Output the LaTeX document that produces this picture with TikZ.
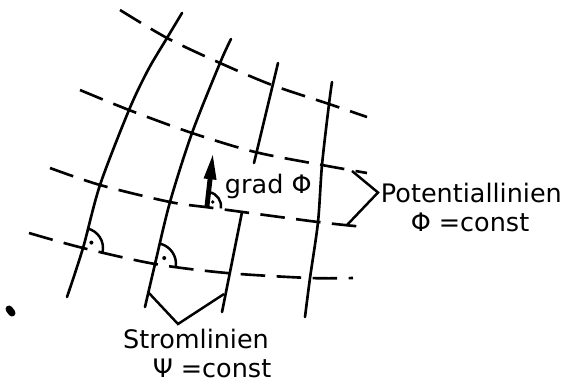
\documentclass[tikz,border=0pt]{standalone}
\usepackage{fontspec}
\setmainfont{DejaVu Sans}
\usetikzlibrary{arrows.meta, calc}
\tikzset{
  stromlinie/.style={line width=1.5pt, line cap=round},
  potlinie/.style={line width=1.5pt, dash pattern=on 14pt off 6.5pt},
  klammer/.style={line width=1.4pt, line join=miter},
  winkel/.style={line width=1.4pt},
  lbl/.style={font=\fontsize{14.5}{17}\selectfont, inner xsep=1.5pt, inner ysep=0pt},
  gradpfeil/.style={line width=2.8pt, -{Triangle[length=15pt,width=6.5pt]}}
}

\begin{document}
\begin{tikzpicture}[x=0.02cm, y=-0.02cm]
  \useasboundingbox (0,0) rectangle (570,383);

  % Potentiallinien
  \draw[potlinie] plot[smooth] coordinates {(120,10) (167,38) (220,63) (272,85) (329,104) (367,117)};
  \draw[potlinie] plot[smooth] coordinates {(80,90) (129,110) (192,133) (255,152) (322,165) (367,173)};
  \draw[potlinie] plot[smooth] coordinates {(50,168) (100,185) (170,202) (213,208) (318,222) (365,227)};
  \draw[potlinie] plot[smooth] coordinates {(29,233) (83,248) (155,264) (227,273) (310,278) (353,278)};

  % Stromlinien
  \draw[stromlinie] plot[smooth] coordinates {(67,297) (83,248) (100,185) (129,110) (148,70) (167,38) (182,13)};
  \draw[stromlinie] plot[smooth] coordinates {(145,307) (155,264) (170,202) (192,133) (220,63) (231,39)};
  \draw[stromlinie] (254,163) -- (278,63);
  \draw[stromlinie] (242,212) -- (222,312);
  \draw[stromlinie] plot[smooth] coordinates {(332,82) (329,104) (322,165) (318,222) (310,278) (305,317)};

  % Kreuzungspunkte
  \coordinate (k1) at (83,248);
  \coordinate (k2) at (155,264);
  \coordinate (k3) at (207,206);
  \coordinate (spitze) at (213,153);

  % rechte Winkel
  \draw[winkel] (k1) ++(-78:20) arc[start angle=-78, end angle=12, radius=20];
  \fill (k1) ++(-33:10) circle[radius=2];
  \draw[winkel] (k2) ++(-74:21) arc[start angle=-74, end angle=8, radius=21];
  \fill (k2) ++(-33:11) circle[radius=2];
  \draw[winkel] (k3) ++(-80:14) arc[start angle=-80, end angle=10, radius=14];
  \fill (k3) ++(-35:7) circle[radius=1.8];

  % Gradient
  \draw[gradpfeil] (k3) -- (spitze);
  \node[lbl, anchor=base west] (grad) at (222,193) {grad Φ};

  % Beschriftung Potentiallinien
  \node[lbl, anchor=base west] (pot) at (378,202) {Potentiallinien};
  \node[lbl, anchor=base] (phic) at (470,231) {Φ =const};
  \coordinate (pa) at (352,171);
  \coordinate (pb) at (347,225);
  \draw[klammer] (pa) -- (pot.west) -- (pb);

  % Beschriftung Stromlinien
  \node[lbl, anchor=base] (strom) at (196,348) {Stromlinien};
  \node[lbl, anchor=base] (psic) at (212,377) {Ψ =const};
  \coordinate (sa) at (148,292);
  \coordinate (sv) at (178,324);
  \coordinate (sb) at (224,294);
  \draw[klammer] (sa) -- (sv) -- (sb);

  % Fleck
  \draw[line width=4pt, line cap=round] (9,309) -- (12,313);
\end{tikzpicture}
\end{document}
